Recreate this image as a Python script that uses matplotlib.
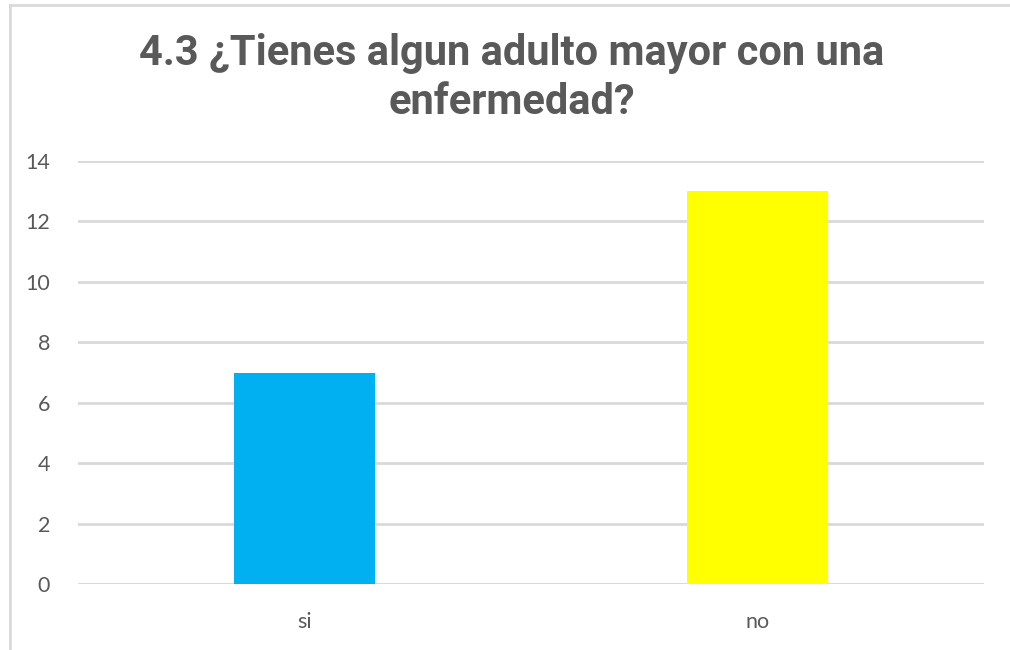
import matplotlib
matplotlib.use("Agg")
import matplotlib.pyplot as plt
from matplotlib.lines import Line2D

categories = ["si", "no"]
values = [7, 13]
bar_colors = ["#00B0F0", "#FFFF00"]
title = "4.3 ¿Tienes algun adulto mayor con una\nenfermedad?"
yticks = [0, 2, 4, 6, 8, 10, 12, 14]

text_color = "#595959"
grid_color = "#D9D9D9"

fig = plt.figure(figsize=(10.1, 6.5), dpi=100)
ax = fig.add_axes([78 / 1010, 1 - 584 / 650, (984 - 78) / 1010, (584 - 161) / 650])

x = range(len(categories))
ax.bar(x, values, width=0.31, color=bar_colors, zorder=3)

ax.set_xlim(-0.5, 1.5)
ax.set_ylim(0, 14)
ax.set_yticks(yticks)
ax.set_xticks(list(x))
ax.set_xticklabels(categories)
ax.yaxis.grid(True, color=grid_color, linewidth=2, zorder=0)
for s in ax.spines.values():
    s.set_visible(False)
ax.tick_params(length=0, colors=text_color, labelsize=15.5)
ax.tick_params(axis="y", pad=20)
ax.tick_params(axis="x", pad=20)
for lab in ax.get_xticklabels() + ax.get_yticklabels():
    lab.set_fontfamily("Lato")

# bottom baseline
ax.axhline(0, color=grid_color, linewidth=2, zorder=2)

fig.text(0.507, 1 - 78 / 650, title, ha="center", va="center", fontsize=30,
         fontweight="bold", color=text_color, family="Roboto", linespacing=1.22)

# chart border (top and left visible)
fig.add_artist(Line2D([10 / 1010, 10 / 1010], [0, 1 - 5 / 650], transform=fig.transFigure,
                      color=grid_color, linewidth=2))
fig.add_artist(Line2D([10 / 1010, 1], [1 - 5 / 650, 1 - 5 / 650], transform=fig.transFigure,
                      color=grid_color, linewidth=2))

fig.savefig("out.png", dpi=100, facecolor="white")
